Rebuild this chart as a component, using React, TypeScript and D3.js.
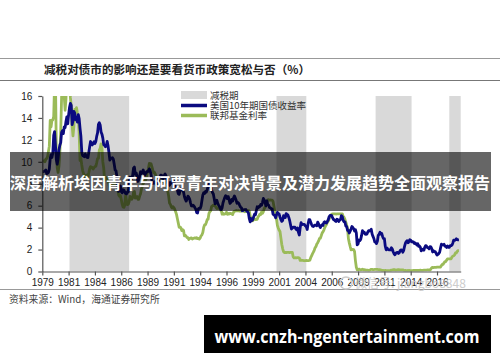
import React, { useEffect, useRef } from 'react';
import * as d3 from 'd3';

// monthly values, first month 1979-01
const startYear = 1979;

const treasury10y = [
  9.10, 9.10, 9.12, 9.18, 9.25, 8.91, 8.95, 9.03, 9.33, 10.30, 10.65, 10.39,
  10.80, 12.41, 12.75, 11.47, 10.18, 9.78, 10.25, 11.10, 11.51, 11.75, 12.68, 12.84,
  12.57, 13.19, 13.12, 13.68, 14.10, 13.47, 14.28, 14.94, 15.32, 15.15, 13.39, 13.72,
  14.59, 14.43, 13.86, 13.87, 13.62, 14.30, 13.95, 13.06, 12.34, 10.91, 10.55, 10.54,
  10.46, 10.72, 10.51, 10.40, 10.38, 10.85, 11.38, 11.85, 11.65, 11.54, 11.69, 11.83,
  11.67, 11.84, 12.32, 12.63, 13.41, 13.56, 13.36, 12.72, 12.52, 12.16, 11.57, 11.50,
  11.38, 11.51, 11.86, 11.43, 10.85, 10.16, 10.31, 10.33, 10.37, 10.24, 9.78, 9.26,
  9.19, 8.70, 7.78, 7.30, 7.71, 7.80, 7.30, 7.17, 7.45, 7.43, 7.25, 7.11,
  7.08, 7.25, 7.25, 8.02, 8.61, 8.40, 8.45, 8.76, 9.42, 9.52, 8.86, 8.99,
  8.67, 8.21, 8.37, 8.72, 9.09, 8.92, 9.06, 9.26, 8.98, 8.80, 8.96, 9.11,
  9.09, 9.17, 9.36, 9.18, 8.86, 8.28, 8.02, 8.11, 8.19, 8.01, 7.87, 7.84,
  8.21, 8.47, 8.59, 8.79, 8.76, 8.48, 8.47, 8.75, 8.89, 8.72, 8.39, 8.08,
  8.09, 7.85, 8.11, 8.04, 8.07, 8.28, 8.27, 7.90, 7.65, 7.53, 7.42, 7.09,
  7.03, 7.34, 7.54, 7.48, 7.39, 7.26, 6.84, 6.59, 6.42, 6.59, 6.87, 6.77,
  6.60, 6.26, 5.98, 5.97, 6.04, 5.96, 5.81, 5.68, 5.36, 5.33, 5.72, 5.77,
  5.75, 5.97, 6.48, 6.97, 7.18, 7.10, 7.30, 7.24, 7.46, 7.74, 7.96, 7.81,
  7.78, 7.47, 7.20, 7.06, 6.63, 6.17, 6.28, 6.49, 6.20, 6.04, 5.93, 5.71,
  5.65, 5.81, 6.27, 6.51, 6.74, 6.91, 6.87, 6.64, 6.83, 6.53, 6.20, 6.30,
  6.58, 6.42, 6.69, 6.89, 6.71, 6.49, 6.22, 6.30, 6.21, 6.03, 5.88, 5.81,
  5.54, 5.57, 5.65, 5.64, 5.65, 5.50, 5.46, 5.34, 4.81, 4.53, 4.83, 4.65,
  4.72, 5.00, 5.23, 5.18, 5.54, 5.90, 5.79, 5.94, 5.92, 6.11, 6.03, 6.28,
  6.66, 6.52, 6.26, 5.99, 6.44, 6.10, 6.05, 5.83, 5.80, 5.74, 5.72, 5.24,
  5.16, 5.10, 4.89, 5.14, 5.39, 5.28, 5.24, 4.97, 4.73, 4.57, 4.65, 5.09,
  5.04, 4.91, 5.28, 5.21, 5.16, 4.93, 4.65, 4.26, 3.87, 3.94, 4.05, 4.03,
  4.05, 3.90, 3.81, 3.96, 3.57, 3.33, 3.98, 4.45, 4.27, 4.29, 4.30, 4.27,
  4.15, 4.08, 3.83, 4.35, 4.72, 4.73, 4.50, 4.28, 4.13, 4.10, 4.19, 4.23,
  4.22, 4.17, 4.50, 4.34, 4.14, 4.00, 4.18, 4.26, 4.20, 4.46, 4.54, 4.47,
  4.42, 4.57, 4.72, 4.99, 5.11, 5.11, 5.09, 4.88, 4.72, 4.73, 4.60, 4.56,
  4.76, 4.72, 4.56, 4.69, 4.75, 5.10, 5.00, 4.67, 4.52, 4.53, 4.15, 4.10,
  3.74, 3.74, 3.51, 3.68, 3.88, 4.10, 4.01, 3.89, 3.69, 3.81, 3.53, 2.42,
  2.52, 2.87, 2.82, 2.93, 3.29, 3.72, 3.56, 3.59, 3.40, 3.39, 3.40, 3.59,
  3.73, 3.69, 3.73, 3.85, 3.42, 3.20, 3.01, 2.70, 2.65, 2.54, 2.76, 3.29,
  3.39, 3.58, 3.41, 3.46, 3.17, 3.00, 3.00, 2.30, 1.98, 2.15, 2.01, 1.98,
  1.97, 1.97, 2.17, 2.05, 1.80, 1.62, 1.53, 1.68, 1.72, 1.75, 1.65, 1.72,
  1.91, 1.98, 1.96, 1.76, 1.93, 2.30, 2.58, 2.74, 2.81, 2.62, 2.72, 2.90,
  2.86, 2.71, 2.72, 2.71, 2.56, 2.60, 2.54, 2.42, 2.53, 2.30, 2.33, 2.21,
  1.88, 1.98, 2.04, 1.94, 2.20, 2.36, 2.32, 2.17, 2.17, 2.07, 2.26, 2.24,
  2.09, 1.78, 1.89, 1.81, 1.81, 1.64, 1.50, 1.56, 1.63, 1.76, 2.14, 2.49,
  2.43, 2.42, 2.48, 2.30, 2.30, 2.19, 2.32, 2.21, 2.20, 2.36, 2.35, 2.40,
  2.58, 2.86, 2.84, 2.87, 2.98, 2.91, 2.89, 2.89,
];

const fedFunds = [
  10.07, 10.06, 10.09, 10.01, 10.24, 10.29, 10.47, 10.94, 11.43, 13.77, 13.18, 13.78,
  13.82, 14.13, 17.19, 17.61, 10.98, 9.47, 9.03, 9.61, 10.87, 12.81, 15.85, 18.90,
  19.08, 15.93, 14.70, 15.72, 18.52, 19.10, 19.04, 17.82, 15.87, 15.08, 13.31, 12.37,
  13.22, 14.78, 14.68, 14.94, 14.45, 14.15, 12.59, 10.12, 10.31, 9.71, 9.20, 8.95,
  8.68, 8.51, 8.77, 8.80, 8.63, 8.98, 9.37, 9.56, 9.45, 9.48, 9.34, 9.47,
  9.56, 9.59, 9.91, 10.29, 10.32, 11.06, 11.23, 11.64, 11.30, 9.99, 9.43, 8.38,
  8.35, 8.50, 8.58, 8.27, 7.97, 7.53, 7.88, 7.90, 7.92, 7.99, 8.05, 8.27,
  8.14, 7.86, 7.48, 6.99, 6.85, 6.92, 6.56, 6.17, 5.89, 5.85, 6.04, 6.91,
  6.43, 6.10, 6.13, 6.37, 6.85, 6.73, 6.58, 6.73, 7.22, 7.29, 6.69, 6.77,
  6.83, 6.58, 6.58, 6.87, 7.09, 7.51, 7.75, 8.01, 8.19, 8.30, 8.35, 8.76,
  9.12, 9.36, 9.85, 9.84, 9.81, 9.53, 9.24, 8.99, 9.02, 8.84, 8.55, 8.45,
  8.23, 8.24, 8.28, 8.26, 8.18, 8.29, 8.15, 8.13, 8.20, 8.11, 7.81, 7.31,
  6.91, 6.25, 6.12, 5.91, 5.78, 5.90, 5.82, 5.66, 5.45, 5.21, 4.81, 4.43,
  4.03, 4.06, 3.98, 3.73, 3.82, 3.76, 3.25, 3.30, 3.22, 3.10, 3.09, 2.92,
  3.02, 3.03, 3.07, 2.96, 3.00, 3.04, 3.06, 3.03, 3.09, 2.99, 3.02, 2.96,
  3.05, 3.25, 3.34, 3.56, 4.01, 4.25, 4.26, 4.47, 4.73, 4.76, 5.29, 5.45,
  5.53, 5.92, 5.98, 6.05, 6.01, 6.00, 5.85, 5.74, 5.80, 5.76, 5.80, 5.60,
  5.56, 5.22, 5.31, 5.22, 5.24, 5.27, 5.40, 5.22, 5.30, 5.24, 5.31, 5.29,
  5.25, 5.19, 5.39, 5.51, 5.50, 5.56, 5.52, 5.54, 5.54, 5.50, 5.52, 5.50,
  5.56, 5.51, 5.49, 5.45, 5.49, 5.56, 5.54, 5.55, 5.51, 5.07, 4.83, 4.68,
  4.63, 4.76, 4.81, 4.74, 4.74, 4.76, 4.99, 5.07, 5.22, 5.20, 5.42, 5.30,
  5.45, 5.73, 5.85, 6.02, 6.27, 6.53, 6.54, 6.50, 6.52, 6.51, 6.51, 6.40,
  5.98, 5.49, 5.31, 4.80, 4.21, 3.97, 3.77, 3.65, 3.07, 2.49, 2.09, 1.82,
  1.73, 1.74, 1.73, 1.75, 1.75, 1.75, 1.73, 1.74, 1.75, 1.75, 1.34, 1.24,
  1.24, 1.26, 1.25, 1.26, 1.26, 1.22, 1.01, 1.03, 1.01, 1.01, 1.00, 0.98,
  1.00, 1.01, 1.00, 1.00, 1.00, 1.03, 1.26, 1.43, 1.61, 1.76, 1.93, 2.16,
  2.28, 2.50, 2.63, 2.79, 3.00, 3.04, 3.26, 3.50, 3.62, 3.78, 4.00, 4.16,
  4.29, 4.49, 4.59, 4.79, 4.94, 4.99, 5.24, 5.25, 5.25, 5.25, 5.25, 5.24,
  5.25, 5.26, 5.26, 5.25, 5.25, 5.25, 5.26, 5.02, 4.94, 4.76, 4.49, 4.24,
  3.94, 2.98, 2.61, 2.28, 1.98, 2.00, 2.01, 2.00, 1.81, 0.97, 0.39, 0.16,
  0.15, 0.22, 0.18, 0.15, 0.18, 0.21, 0.16, 0.16, 0.15, 0.12, 0.12, 0.12,
  0.11, 0.13, 0.16, 0.20, 0.20, 0.18, 0.18, 0.19, 0.19, 0.19, 0.19, 0.18,
  0.17, 0.16, 0.14, 0.10, 0.09, 0.09, 0.07, 0.10, 0.08, 0.07, 0.08, 0.07,
  0.08, 0.10, 0.13, 0.14, 0.16, 0.16, 0.16, 0.13, 0.14, 0.16, 0.16, 0.16,
  0.14, 0.15, 0.14, 0.15, 0.11, 0.09, 0.09, 0.08, 0.08, 0.09, 0.08, 0.09,
  0.07, 0.07, 0.08, 0.09, 0.09, 0.10, 0.09, 0.09, 0.09, 0.09, 0.09, 0.12,
  0.11, 0.11, 0.11, 0.12, 0.12, 0.13, 0.13, 0.14, 0.14, 0.12, 0.12, 0.24,
  0.34, 0.38, 0.36, 0.37, 0.37, 0.38, 0.39, 0.40, 0.40, 0.40, 0.41, 0.54,
  0.65, 0.66, 0.79, 0.90, 0.91, 1.04, 1.15, 1.16, 1.15, 1.15, 1.16, 1.30,
  1.41, 1.42, 1.51, 1.69, 1.70, 1.82, 1.91, 1.91,
];

// tax-cut periods (shaded), as [start, end) months
const taxCutPeriods = [
  ['1981-08', '1987-04'],
  ['2001-04', '2004-02'],
  ['2010-09', '2014-02'],
  ['2017-09', '2018-10'],
];

const yTicks = [0, 2, 4, 6, 8, 10, 12, 14, 16];

const seriesNames = ['减税期', '美国10年期国债收益率', '联邦基金利率'];
const titleText = '减税对债市的影响还是要看货币政策宽松与否（%）';
const sourceText = '资料来源：Wind，海通证券研究所';
const bannerText = '深度解析埃因青年与阿贾青年对决背景及潜力发展趋势全面观察报告';
const urlText = 'www.cnzh-ngentertainment.com';
const watermarkText = '微信号: jiangbo8848';

const monthIndex = (s: string) => {
  const [y, m] = s.split('-').map(Number);
  return (y - startYear) * 12 + (m - 1);
};

const BLUE = '#0b0b80';
const GREEN = '#9bbb59';
const CJK = '"Noto Sans CJK SC", sans-serif';

const App: React.FC = () => {
  const svgRef = useRef<SVGSVGElement | null>(null);

  useEffect(() => {
    if (!svgRef.current) return;
    const svg = d3.select(svgRef.current);
    svg.selectAll('*').remove();

    const width = 500;
    const height = 362;
    const plot = { left: 42.3, right: 460.7, top: 96, bottom: 271.5 };

    svg.append('rect').attr('width', width).attr('height', height).attr('fill', '#fff');

    const x = d3.scaleLinear().domain([0, 477]).range([plot.left, plot.right]);
    const y = d3.scaleLinear().domain([0, 16]).range([plot.bottom, plot.top]);

    // shaded tax-cut bands
    svg.append('g')
      .selectAll('rect')
      .data(taxCutPeriods)
      .enter().append('rect')
      .attr('x', d => x(monthIndex(d[0])))
      .attr('width', d => x(monthIndex(d[1])) - x(monthIndex(d[0])))
      .attr('y', plot.top)
      .attr('height', plot.bottom - plot.top)
      .attr('fill', '#d9d9d9');

    svg.append('clipPath').attr('id', 'plotClip')
      .append('rect')
      .attr('x', plot.left).attr('y', plot.top)
      .attr('width', plot.right - plot.left).attr('height', plot.bottom - plot.top);

    const line = d3.line<number>()
      .x((_, i) => x(i))
      .y(d => y(d));

    const lines = svg.append('g').attr('clip-path', 'url(#plotClip)');
    lines.append('path')
      .datum(fedFunds)
      .attr('fill', 'none')
      .attr('stroke', GREEN)
      .attr('stroke-width', 2.8)
      .attr('stroke-linejoin', 'round')
      .attr('d', line);
    lines.append('path')
      .datum(treasury10y)
      .attr('fill', 'none')
      .attr('stroke', BLUE)
      .attr('stroke-width', 2.8)
      .attr('stroke-linejoin', 'round')
      .attr('d', line);

    // axes
    const yAxis = svg.append('g')
      .attr('transform', `translate(${plot.left},0)`)
      .call(d3.axisLeft(y).tickValues(yTicks).tickSize(4).tickPadding(6).tickSizeOuter(0));
    const xTickValues = d3.range(0, 451, 30);
    const xAxis = svg.append('g')
      .attr('transform', `translate(0,${plot.bottom})`)
      .call(d3.axisBottom(x).tickValues(xTickValues).tickSize(4).tickPadding(3).tickSizeOuter(0)
        .tickFormat(d => String(startYear + Math.floor((d as number) / 12))));
    [xAxis, yAxis].forEach(g => {
      g.selectAll('path, line').attr('stroke', '#555').attr('stroke-width', 1.2);
      g.selectAll('text')
        .attr('fill', '#222')
        .style('font-family', 'Arial, "Liberation Sans", sans-serif')
        .style('font-size', '10px');
    });

    // legend
    const legend = svg.append('g').style('font-family', CJK).style('font-size', '9.5px');
    legend.append('rect').attr('x', 181).attr('y', 91).attr('width', 26).attr('height', 8).attr('fill', '#d9d9d9');
    legend.append('line').attr('x1', 181).attr('x2', 207).attr('y1', 105.5).attr('y2', 105.5)
      .attr('stroke', BLUE).attr('stroke-width', 3.5);
    legend.append('line').attr('x1', 181).attr('x2', 207).attr('y1', 115.5).attr('y2', 115.5)
      .attr('stroke', GREEN).attr('stroke-width', 3.5);
    legend.selectAll('text.lg')
      .data(seriesNames)
      .enter().append('text')
      .attr('class', 'lg')
      .attr('x', 210)
      .attr('y', (_, i) => 98.5 + i * 10)
      .attr('fill', '#333')
      .text(d => d);

    // title and rules
    svg.append('line').attr('x1', 0).attr('x2', width).attr('y1', 58.5).attr('y2', 58.5)
      .attr('stroke', '#999').attr('stroke-width', 1);
    svg.append('line').attr('x1', 0).attr('x2', width).attr('y1', 80.5).attr('y2', 80.5)
      .attr('stroke', '#777').attr('stroke-width', 1.2);
    svg.append('text')
      .attr('x', 44).attr('y', 74)
      .attr('fill', '#222')
      .style('font-family', CJK).style('font-size', '11.5px').style('font-weight', 'bold')
      .attr('textLength', 266).attr('lengthAdjust', 'spacingAndGlyphs')
      .text(titleText);
    svg.append('line').attr('x1', 0).attr('x2', width).attr('y1', 289.5).attr('y2', 289.5)
      .attr('stroke', '#999').attr('stroke-width', 1);
    svg.append('text')
      .attr('x', 9).attr('y', 302.5)
      .attr('fill', '#444')
      .style('font-family', CJK).style('font-size', '9.8px')
      .text(sourceText);

    // watermark
    svg.append('circle').attr('cx', 346).attr('cy', 283).attr('r', 6)
      .attr('fill', 'none').attr('stroke', '#ccc').attr('stroke-width', 1.5);
    svg.append('text')
      .attr('x', 355).attr('y', 287.5)
      .attr('fill', '#c4c4c4').attr('opacity', 0.85)
      .style('font-family', CJK).style('font-size', '12px')
      .text(watermarkText);

    // overlay banner
    svg.append('rect').attr('x', 10).attr('y', 152).attr('width', 481).attr('height', 59)
      .attr('fill', '#000').attr('opacity', 0.6);
    svg.append('text')
      .attr('x', 250).attr('y', 188.5)
      .attr('text-anchor', 'middle')
      .attr('fill', '#fff')
      .style('font-family', CJK).style('font-size', '16px').style('font-weight', 'bold')
      .attr('textLength', 480).attr('lengthAdjust', 'spacingAndGlyphs')
      .text(bannerText);

    // url box
    svg.append('rect').attr('x', 204).attr('y', 315).attr('width', 287).attr('height', 38).attr('fill', '#000');
    svg.append('text')
      .attr('x', 347).attr('y', 342.5)
      .attr('text-anchor', 'middle')
      .attr('fill', '#fff')
      .style('font-family', '"Open Sans", sans-serif').style('font-size', '17px').style('font-weight', 'bold')
      .attr('textLength', 265).attr('lengthAdjust', 'spacingAndGlyphs')
      .text(urlText);
  }, []);

  return (
    <svg ref={svgRef} width={500} height={362}
      style={{ position: 'absolute', left: 0, top: 0, display: 'block' }} />
  );
};

export default App;
